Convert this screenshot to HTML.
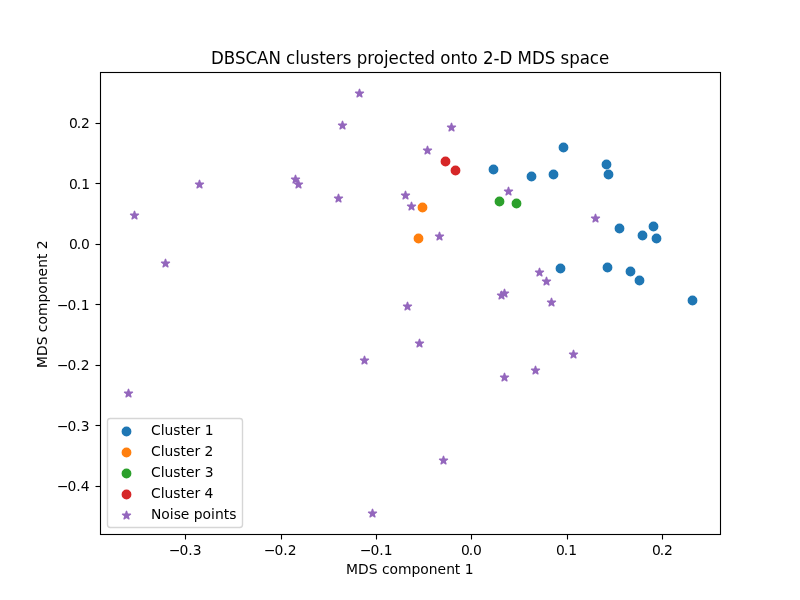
<!DOCTYPE html>
<html lang="en"><head><meta charset="utf-8"><title>DBSCAN clusters projected onto 2-D MDS space</title>
<style>html,body{margin:0;padding:0;background:#fff;overflow:hidden}svg{display:block}text{font-family:"DejaVu Sans","Liberation Sans",sans-serif;fill:#000}.t{font-size:13.889px}.ti{font-size:16.667px}.ax{stroke:#000;stroke-width:1.111;fill:none}</style></head><body>
<svg width="800" height="600" viewBox="0 0 800 600">
<rect width="800" height="600" fill="#fff"/>
<g fill="#1f77b4" stroke="#1f77b4" stroke-width="1.389">
<circle cx="563.50" cy="147.50" r="4.220"/>
<circle cx="606.50" cy="164.50" r="4.220"/>
<circle cx="493.50" cy="169.50" r="4.220"/>
<circle cx="553.50" cy="174.50" r="4.220"/>
<circle cx="608.50" cy="174.50" r="4.220"/>
<circle cx="531.50" cy="176.50" r="4.220"/>
<circle cx="653.50" cy="226.50" r="4.220"/>
<circle cx="619.50" cy="228.50" r="4.220"/>
<circle cx="642.50" cy="235.50" r="4.220"/>
<circle cx="656.50" cy="238.50" r="4.220"/>
<circle cx="607.50" cy="267.50" r="4.220"/>
<circle cx="560.50" cy="268.50" r="4.220"/>
<circle cx="630.50" cy="271.50" r="4.220"/>
<circle cx="639.50" cy="280.50" r="4.220"/>
<circle cx="692.50" cy="300.50" r="4.220"/>
</g>
<g fill="#ff7f0e" stroke="#ff7f0e" stroke-width="1.389">
<circle cx="422.50" cy="207.50" r="4.220"/>
<circle cx="418.50" cy="238.50" r="4.220"/>
</g>
<g fill="#2ca02c" stroke="#2ca02c" stroke-width="1.389">
<circle cx="499.50" cy="201.50" r="4.220"/>
<circle cx="516.50" cy="203.50" r="4.220"/>
</g>
<g fill="#d62728" stroke="#d62728" stroke-width="1.389">
<circle cx="445.50" cy="161.50" r="4.220"/>
<circle cx="455.50" cy="170.50" r="4.220"/>
</g>
<g fill="#9467bd" stroke="#9467bd" stroke-width="1.400" stroke-linejoin="round">
<path transform="translate(359.5 93.5)" d="M0.000 -4.170 L-0.936 -1.289 L-3.966 -1.289 L-1.515 0.492 L-2.451 3.374 L0.000 1.593 L2.451 3.374 L1.515 0.492 L3.966 -1.289 L0.936 -1.289Z"/>
<path transform="translate(342.5 125.5)" d="M0.000 -4.170 L-0.936 -1.289 L-3.966 -1.289 L-1.515 0.492 L-2.451 3.374 L0.000 1.593 L2.451 3.374 L1.515 0.492 L3.966 -1.289 L0.936 -1.289Z"/>
<path transform="translate(451.5 127.5)" d="M0.000 -4.170 L-0.936 -1.289 L-3.966 -1.289 L-1.515 0.492 L-2.451 3.374 L0.000 1.593 L2.451 3.374 L1.515 0.492 L3.966 -1.289 L0.936 -1.289Z"/>
<path transform="translate(427.5 150.5)" d="M0.000 -4.170 L-0.936 -1.289 L-3.966 -1.289 L-1.515 0.492 L-2.451 3.374 L0.000 1.593 L2.451 3.374 L1.515 0.492 L3.966 -1.289 L0.936 -1.289Z"/>
<path transform="translate(295.5 179.5)" d="M0.000 -4.170 L-0.936 -1.289 L-3.966 -1.289 L-1.515 0.492 L-2.451 3.374 L0.000 1.593 L2.451 3.374 L1.515 0.492 L3.966 -1.289 L0.936 -1.289Z"/>
<path transform="translate(298.5 184.5)" d="M0.000 -4.170 L-0.936 -1.289 L-3.966 -1.289 L-1.515 0.492 L-2.451 3.374 L0.000 1.593 L2.451 3.374 L1.515 0.492 L3.966 -1.289 L0.936 -1.289Z"/>
<path transform="translate(199.5 184.5)" d="M0.000 -4.170 L-0.936 -1.289 L-3.966 -1.289 L-1.515 0.492 L-2.451 3.374 L0.000 1.593 L2.451 3.374 L1.515 0.492 L3.966 -1.289 L0.936 -1.289Z"/>
<path transform="translate(508.5 191.5)" d="M0.000 -4.170 L-0.936 -1.289 L-3.966 -1.289 L-1.515 0.492 L-2.451 3.374 L0.000 1.593 L2.451 3.374 L1.515 0.492 L3.966 -1.289 L0.936 -1.289Z"/>
<path transform="translate(405.5 195.5)" d="M0.000 -4.170 L-0.936 -1.289 L-3.966 -1.289 L-1.515 0.492 L-2.451 3.374 L0.000 1.593 L2.451 3.374 L1.515 0.492 L3.966 -1.289 L0.936 -1.289Z"/>
<path transform="translate(338.5 198.5)" d="M0.000 -4.170 L-0.936 -1.289 L-3.966 -1.289 L-1.515 0.492 L-2.451 3.374 L0.000 1.593 L2.451 3.374 L1.515 0.492 L3.966 -1.289 L0.936 -1.289Z"/>
<path transform="translate(411.5 206.5)" d="M0.000 -4.170 L-0.936 -1.289 L-3.966 -1.289 L-1.515 0.492 L-2.451 3.374 L0.000 1.593 L2.451 3.374 L1.515 0.492 L3.966 -1.289 L0.936 -1.289Z"/>
<path transform="translate(134.5 215.5)" d="M0.000 -4.170 L-0.936 -1.289 L-3.966 -1.289 L-1.515 0.492 L-2.451 3.374 L0.000 1.593 L2.451 3.374 L1.515 0.492 L3.966 -1.289 L0.936 -1.289Z"/>
<path transform="translate(595.5 218.5)" d="M0.000 -4.170 L-0.936 -1.289 L-3.966 -1.289 L-1.515 0.492 L-2.451 3.374 L0.000 1.593 L2.451 3.374 L1.515 0.492 L3.966 -1.289 L0.936 -1.289Z"/>
<path transform="translate(439.5 236.5)" d="M0.000 -4.170 L-0.936 -1.289 L-3.966 -1.289 L-1.515 0.492 L-2.451 3.374 L0.000 1.593 L2.451 3.374 L1.515 0.492 L3.966 -1.289 L0.936 -1.289Z"/>
<path transform="translate(165.5 263.5)" d="M0.000 -4.170 L-0.936 -1.289 L-3.966 -1.289 L-1.515 0.492 L-2.451 3.374 L0.000 1.593 L2.451 3.374 L1.515 0.492 L3.966 -1.289 L0.936 -1.289Z"/>
<path transform="translate(539.5 272.5)" d="M0.000 -4.170 L-0.936 -1.289 L-3.966 -1.289 L-1.515 0.492 L-2.451 3.374 L0.000 1.593 L2.451 3.374 L1.515 0.492 L3.966 -1.289 L0.936 -1.289Z"/>
<path transform="translate(546.5 281.5)" d="M0.000 -4.170 L-0.936 -1.289 L-3.966 -1.289 L-1.515 0.492 L-2.451 3.374 L0.000 1.593 L2.451 3.374 L1.515 0.492 L3.966 -1.289 L0.936 -1.289Z"/>
<path transform="translate(501.5 295.5)" d="M0.000 -4.170 L-0.936 -1.289 L-3.966 -1.289 L-1.515 0.492 L-2.451 3.374 L0.000 1.593 L2.451 3.374 L1.515 0.492 L3.966 -1.289 L0.936 -1.289Z"/>
<path transform="translate(504.5 293.5)" d="M0.000 -4.170 L-0.936 -1.289 L-3.966 -1.289 L-1.515 0.492 L-2.451 3.374 L0.000 1.593 L2.451 3.374 L1.515 0.492 L3.966 -1.289 L0.936 -1.289Z"/>
<path transform="translate(551.5 302.5)" d="M0.000 -4.170 L-0.936 -1.289 L-3.966 -1.289 L-1.515 0.492 L-2.451 3.374 L0.000 1.593 L2.451 3.374 L1.515 0.492 L3.966 -1.289 L0.936 -1.289Z"/>
<path transform="translate(407.5 306.5)" d="M0.000 -4.170 L-0.936 -1.289 L-3.966 -1.289 L-1.515 0.492 L-2.451 3.374 L0.000 1.593 L2.451 3.374 L1.515 0.492 L3.966 -1.289 L0.936 -1.289Z"/>
<path transform="translate(419.5 343.5)" d="M0.000 -4.170 L-0.936 -1.289 L-3.966 -1.289 L-1.515 0.492 L-2.451 3.374 L0.000 1.593 L2.451 3.374 L1.515 0.492 L3.966 -1.289 L0.936 -1.289Z"/>
<path transform="translate(573.5 354.5)" d="M0.000 -4.170 L-0.936 -1.289 L-3.966 -1.289 L-1.515 0.492 L-2.451 3.374 L0.000 1.593 L2.451 3.374 L1.515 0.492 L3.966 -1.289 L0.936 -1.289Z"/>
<path transform="translate(364.5 360.5)" d="M0.000 -4.170 L-0.936 -1.289 L-3.966 -1.289 L-1.515 0.492 L-2.451 3.374 L0.000 1.593 L2.451 3.374 L1.515 0.492 L3.966 -1.289 L0.936 -1.289Z"/>
<path transform="translate(535.5 370.5)" d="M0.000 -4.170 L-0.936 -1.289 L-3.966 -1.289 L-1.515 0.492 L-2.451 3.374 L0.000 1.593 L2.451 3.374 L1.515 0.492 L3.966 -1.289 L0.936 -1.289Z"/>
<path transform="translate(504.5 377.5)" d="M0.000 -4.170 L-0.936 -1.289 L-3.966 -1.289 L-1.515 0.492 L-2.451 3.374 L0.000 1.593 L2.451 3.374 L1.515 0.492 L3.966 -1.289 L0.936 -1.289Z"/>
<path transform="translate(128.5 393.5)" d="M0.000 -4.170 L-0.936 -1.289 L-3.966 -1.289 L-1.515 0.492 L-2.451 3.374 L0.000 1.593 L2.451 3.374 L1.515 0.492 L3.966 -1.289 L0.936 -1.289Z"/>
<path transform="translate(443.5 460.5)" d="M0.000 -4.170 L-0.936 -1.289 L-3.966 -1.289 L-1.515 0.492 L-2.451 3.374 L0.000 1.593 L2.451 3.374 L1.515 0.492 L3.966 -1.289 L0.936 -1.289Z"/>
<path transform="translate(372.5 513.5)" d="M0.000 -4.170 L-0.936 -1.289 L-3.966 -1.289 L-1.515 0.492 L-2.451 3.374 L0.000 1.593 L2.451 3.374 L1.515 0.492 L3.966 -1.289 L0.936 -1.289Z"/>
</g>
<g class="ax">
<path d="M185.5 534.5V539.5"/>
<path d="M281.5 534.5V539.5"/>
<path d="M376.5 534.5V539.5"/>
<path d="M471.5 534.5V539.5"/>
<path d="M567.5 534.5V539.5"/>
<path d="M662.5 534.5V539.5"/>
<path d="M100.5 123.5H95.5"/>
<path d="M100.5 183.5H95.5"/>
<path d="M100.5 244.5H95.5"/>
<path d="M100.5 304.5H95.5"/>
<path d="M100.5 365.5H95.5"/>
<path d="M100.5 425.5H95.5"/>
<path d="M100.5 486.5H95.5"/>
<rect x="100.5" y="72.5" width="620" height="462"/>
</g>
<rect x="107.50" y="418.50" width="135.00" height="109.00" rx="2.78" fill="#fff" fill-opacity="0.8" stroke="#ccc" stroke-opacity="0.8" stroke-width="1.389"/>
<circle cx="126.5" cy="431.50" r="4.220" fill="#1f77b4" stroke="#1f77b4" stroke-width="1.389"/>
<circle cx="126.5" cy="452.50" r="4.220" fill="#ff7f0e" stroke="#ff7f0e" stroke-width="1.389"/>
<circle cx="126.5" cy="473.50" r="4.220" fill="#2ca02c" stroke="#2ca02c" stroke-width="1.389"/>
<circle cx="126.5" cy="494.50" r="4.220" fill="#d62728" stroke="#d62728" stroke-width="1.389"/>
<path transform="translate(126.5 515.5)" d="M0.000 -4.170 L-0.936 -1.289 L-3.966 -1.289 L-1.515 0.492 L-2.451 3.374 L0.000 1.593 L2.451 3.374 L1.515 0.492 L3.966 -1.289 L0.936 -1.289Z" fill="#9467bd" stroke="#9467bd" stroke-width="1.400" stroke-linejoin="round"/>
<text class="t" transform="translate(0 554.50) scale(1 1.0200)" x="168.90 179.52 188.35 192.76">−0.3</text>
<text class="t" transform="translate(0 554.50) scale(1 1.0200)" x="263.90 274.52 283.35 287.76">−0.2</text>
<text class="t" transform="translate(0 554.50) scale(1 1.0200)" x="359.90 370.52 379.35 383.76">−0.1</text>
<text class="t" transform="translate(0 554.50) scale(1 1.0200)" x="460.96 468.77 472.95">0.0</text>
<text class="t" transform="translate(0 554.50) scale(1 1.0400)" x="555.96 563.77 568.20">0.1</text>
<text class="t" transform="translate(0 554.50) scale(1 1.0600)" x="651.96 659.77 663.95">0.2</text>
<text class="t" transform="translate(0 127.50) scale(1 1.0600)" x="68.95 76.76 80.94">0.2</text>
<text class="t" transform="translate(0 188.50) scale(1 1.0400)" x="68.95 76.76 81.19">0.1</text>
<text class="t" transform="translate(0 248.50) scale(1 1.0200)" x="68.95 76.76 80.94">0.0</text>
<text class="t" transform="translate(0 309.50) scale(1 1.0200)" x="57.08 67.45 76.28 80.69">−0.1</text>
<text class="t" transform="translate(0 369.50) scale(1 1.0200)" x="57.08 67.45 76.28 80.69">−0.2</text>
<text class="t" transform="translate(0 430.50) scale(1 1.0200)" x="57.08 67.45 76.28 80.69">−0.3</text>
<text class="t" transform="translate(0 490.50) scale(1 1.0200)" x="57.08 67.45 76.28 80.69">−0.4</text>
<text class="t" transform="translate(0 573.50) scale(1 1.0600)" x="345.95 357.91 368.84 377.40 382.05 389.45 397.93 411.45 420.26 428.74 437.54 446.32 454.87 460.30 464.71">MDS component 1</text>
<text class="t" transform="translate(46.50 304.25) rotate(-90) scale(1 1.0200)" x="-63.80 -51.84 -40.91 -32.35 -27.95 -20.30 -11.82 1.70 10.51 19.24 27.79 36.57 45.37 50.55 54.96">MDS component 2</text>
<text class="ti" transform="translate(0 63.50) scale(1 1.1000)" x="211.11 223.67 235.06 245.39 257.02 268.41 280.62 285.91 295.31 299.70 310.50 319.19 325.47 335.95 342.81 351.23 356.78 367.36 373.83 384.03 388.41 398.66 408.06 414.34 424.59 435.16 440.20 450.39 460.95 467.48 477.92 482.97 493.56 499.58 512.66 517.44 532.06 544.64 555.72 560.52 569.19 579.77 589.72 598.88">DBSCAN clusters projected onto 2-D MDS space</text>
<text class="t" transform="translate(0 434.50) scale(1 1.0200)" x="150.89 160.83 164.42 173.22 180.45 185.89 194.42 200.12 204.80">Cluster 1</text>
<text class="t" transform="translate(0 455.50) scale(1 1.0200)" x="150.89 160.83 164.42 173.22 180.45 185.89 194.42 200.12 204.55">Cluster 2</text>
<text class="t" transform="translate(0 476.50) scale(1 1.0200)" x="150.89 160.83 164.42 173.22 180.45 185.89 194.42 200.12 204.80">Cluster 3</text>
<text class="t" transform="translate(0 497.50) scale(1 1.0200)" x="150.89 160.83 164.42 173.22 180.45 185.89 194.42 200.12 204.55">Cluster 4</text>
<text class="t" x="150.89 161.26 169.75 173.86 180.83 189.37 193.78 202.59 211.08 214.94 223.73 229.17" y="519.00">Noise points</text>
</svg></body></html>
